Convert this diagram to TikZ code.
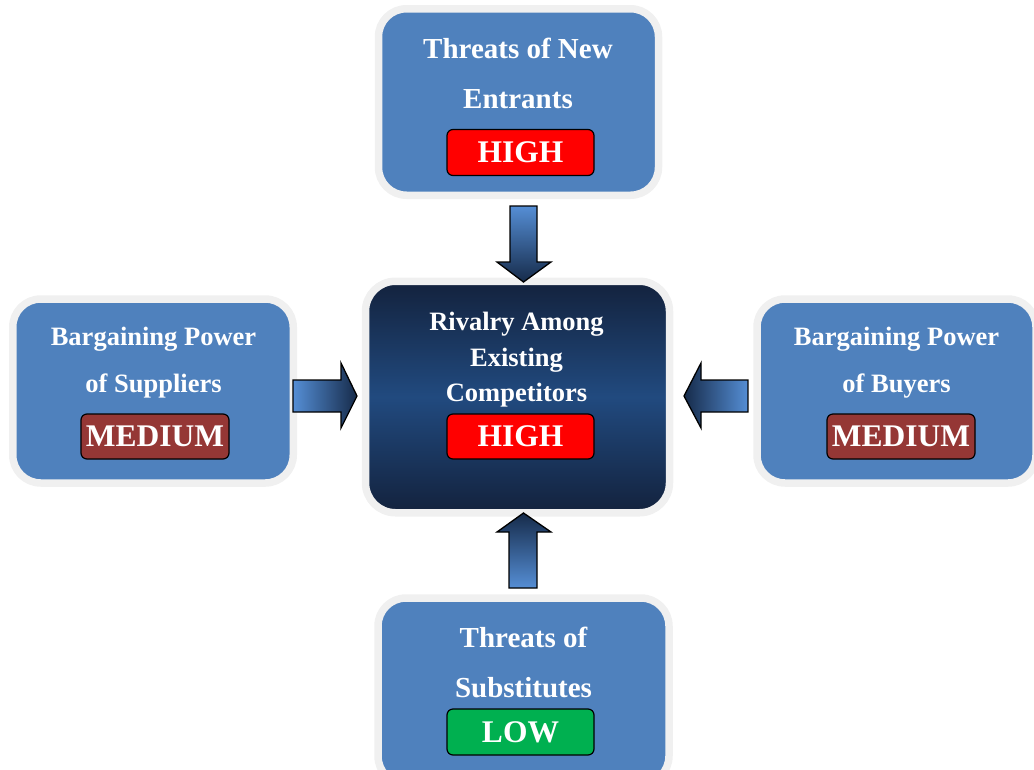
\documentclass[tikz,border=0pt]{standalone}
\usepackage{fontspec}
\setmainfont{Liberation Serif}
\definecolor{boxblue}{HTML}{4F81BD}
\definecolor{ringgray}{HTML}{F0F0F0}
\definecolor{highred}{HTML}{FF0000}
\definecolor{medred}{HTML}{953735}
\definecolor{lowgreen}{HTML}{00B050}
\definecolor{navydark}{HTML}{13223D}
\definecolor{navymid}{HTML}{214A7F}
\definecolor{arrowlight}{HTML}{558ED5}
\definecolor{arrowdark}{HTML}{162B4A}
\begin{document}
\begin{tikzpicture}[x=1pt,y=-1pt,
  forcebox/.style={draw=ringgray, line width=7.5pt, fill=boxblue,
    rounded corners=28pt, inner sep=0pt},
  bigtitle/.style={text=white, inner sep=0pt, anchor=base,
    font=\fontsize{29}{29}\bfseries\selectfont},
  smalltitle/.style={text=white, inner sep=0pt, anchor=base,
    font=\fontsize{26.5}{26.5}\bfseries\selectfont},
  level/.style={draw=black, line width=1.2pt, rounded corners=6pt,
    minimum width=147pt, minimum height=46pt, inner sep=0pt, text=white,
    font=\fontsize{31.5}{31.5}\bfseries\selectfont},
  blockarrow/.style={draw=black, line width=1.3pt, line join=miter}]
\useasboundingbox (0,0) rectangle (1034,769);
\clip (0,0) rectangle (1034,769);

% five forces
\node[forcebox, minimum width=280pt, minimum height=186.5pt] (entrants) at (518.5,102) {};
\node[forcebox, minimum width=280.5pt, minimum height=184pt] (suppliers) at (153,391) {};
\node[forcebox, minimum width=279pt, minimum height=184pt] (buyers) at (896.5,391) {};
\node[forcebox, minimum width=291pt, minimum height=186pt] (substitutes) at (523.5,691) {};
\node[forcebox, rounded corners=30pt, minimum width=304pt, minimum height=231.5pt,
  top color=navydark, bottom color=navydark, middle color=navymid] (rivalry) at (517.5,397) {};

% titles
\node[bigtitle] (entrants-a) at (518,58) {Threats of New};
\node[bigtitle] (entrants-b) at (518,108) {Entrants};
\node[bigtitle] (substitutes-a) at (523.5,647) {Threats of};
\node[bigtitle] (substitutes-b) at (523.5,697) {Substitutes};
\node[smalltitle] (suppliers-a) at (153.5,345) {Bargaining Power};
\node[smalltitle] (suppliers-b) at (153.5,392) {of Suppliers};
\node[smalltitle] (buyers-a) at (896.5,345) {Bargaining Power};
\node[smalltitle] (buyers-b) at (896.5,392) {of Buyers};
\node[smalltitle] (rivalry-a) at (516.5,330) {Rivalry Among};
\node[smalltitle] (rivalry-b) at (516.5,366) {Existing};
\node[smalltitle] (rivalry-c) at (516.5,401) {Competitors};

% intensity levels
\node[level, fill=highred] (entrants-level) at (520.5,152.5) {HIGH};
\node[level, fill=highred, minimum height=45pt] (rivalry-level) at (520.5,436.5) {HIGH};
\node[level, fill=medred, minimum width=148pt, minimum height=45pt] (suppliers-level) at (155,436.5) {MEDIUM};
\node[level, fill=medred, minimum width=148pt, minimum height=45pt] (buyers-level) at (901,436.5) {MEDIUM};
\node[level, fill=lowgreen] (substitutes-level) at (520.5,732) {LOW};

% block arrows pointing at the rivalry box
\path[blockarrow, top color=arrowlight, bottom color=arrowdark]
  (510,206) -- (537,206) -- (537,262) -- (551,262) -- (523.5,282)
  -- (497,262) -- (510,262) -- cycle;
\path[blockarrow, top color=arrowdark, bottom color=arrowlight]
  (509,588) -- (537,588) -- (537,532) -- (551,532) -- (523.5,513)
  -- (497,532) -- (509,532) -- cycle;
\path[blockarrow, left color=arrowlight, right color=arrowdark]
  (293,380) -- (341,380) -- (341,363) -- (357,396) -- (341,428)
  -- (341,412) -- (293,412) -- cycle;
\path[blockarrow, left color=arrowdark, right color=arrowlight]
  (748,380) -- (701,380) -- (701,363) -- (684,396) -- (701,428)
  -- (701,412) -- (748,412) -- cycle;
\end{tikzpicture}
\end{document}
